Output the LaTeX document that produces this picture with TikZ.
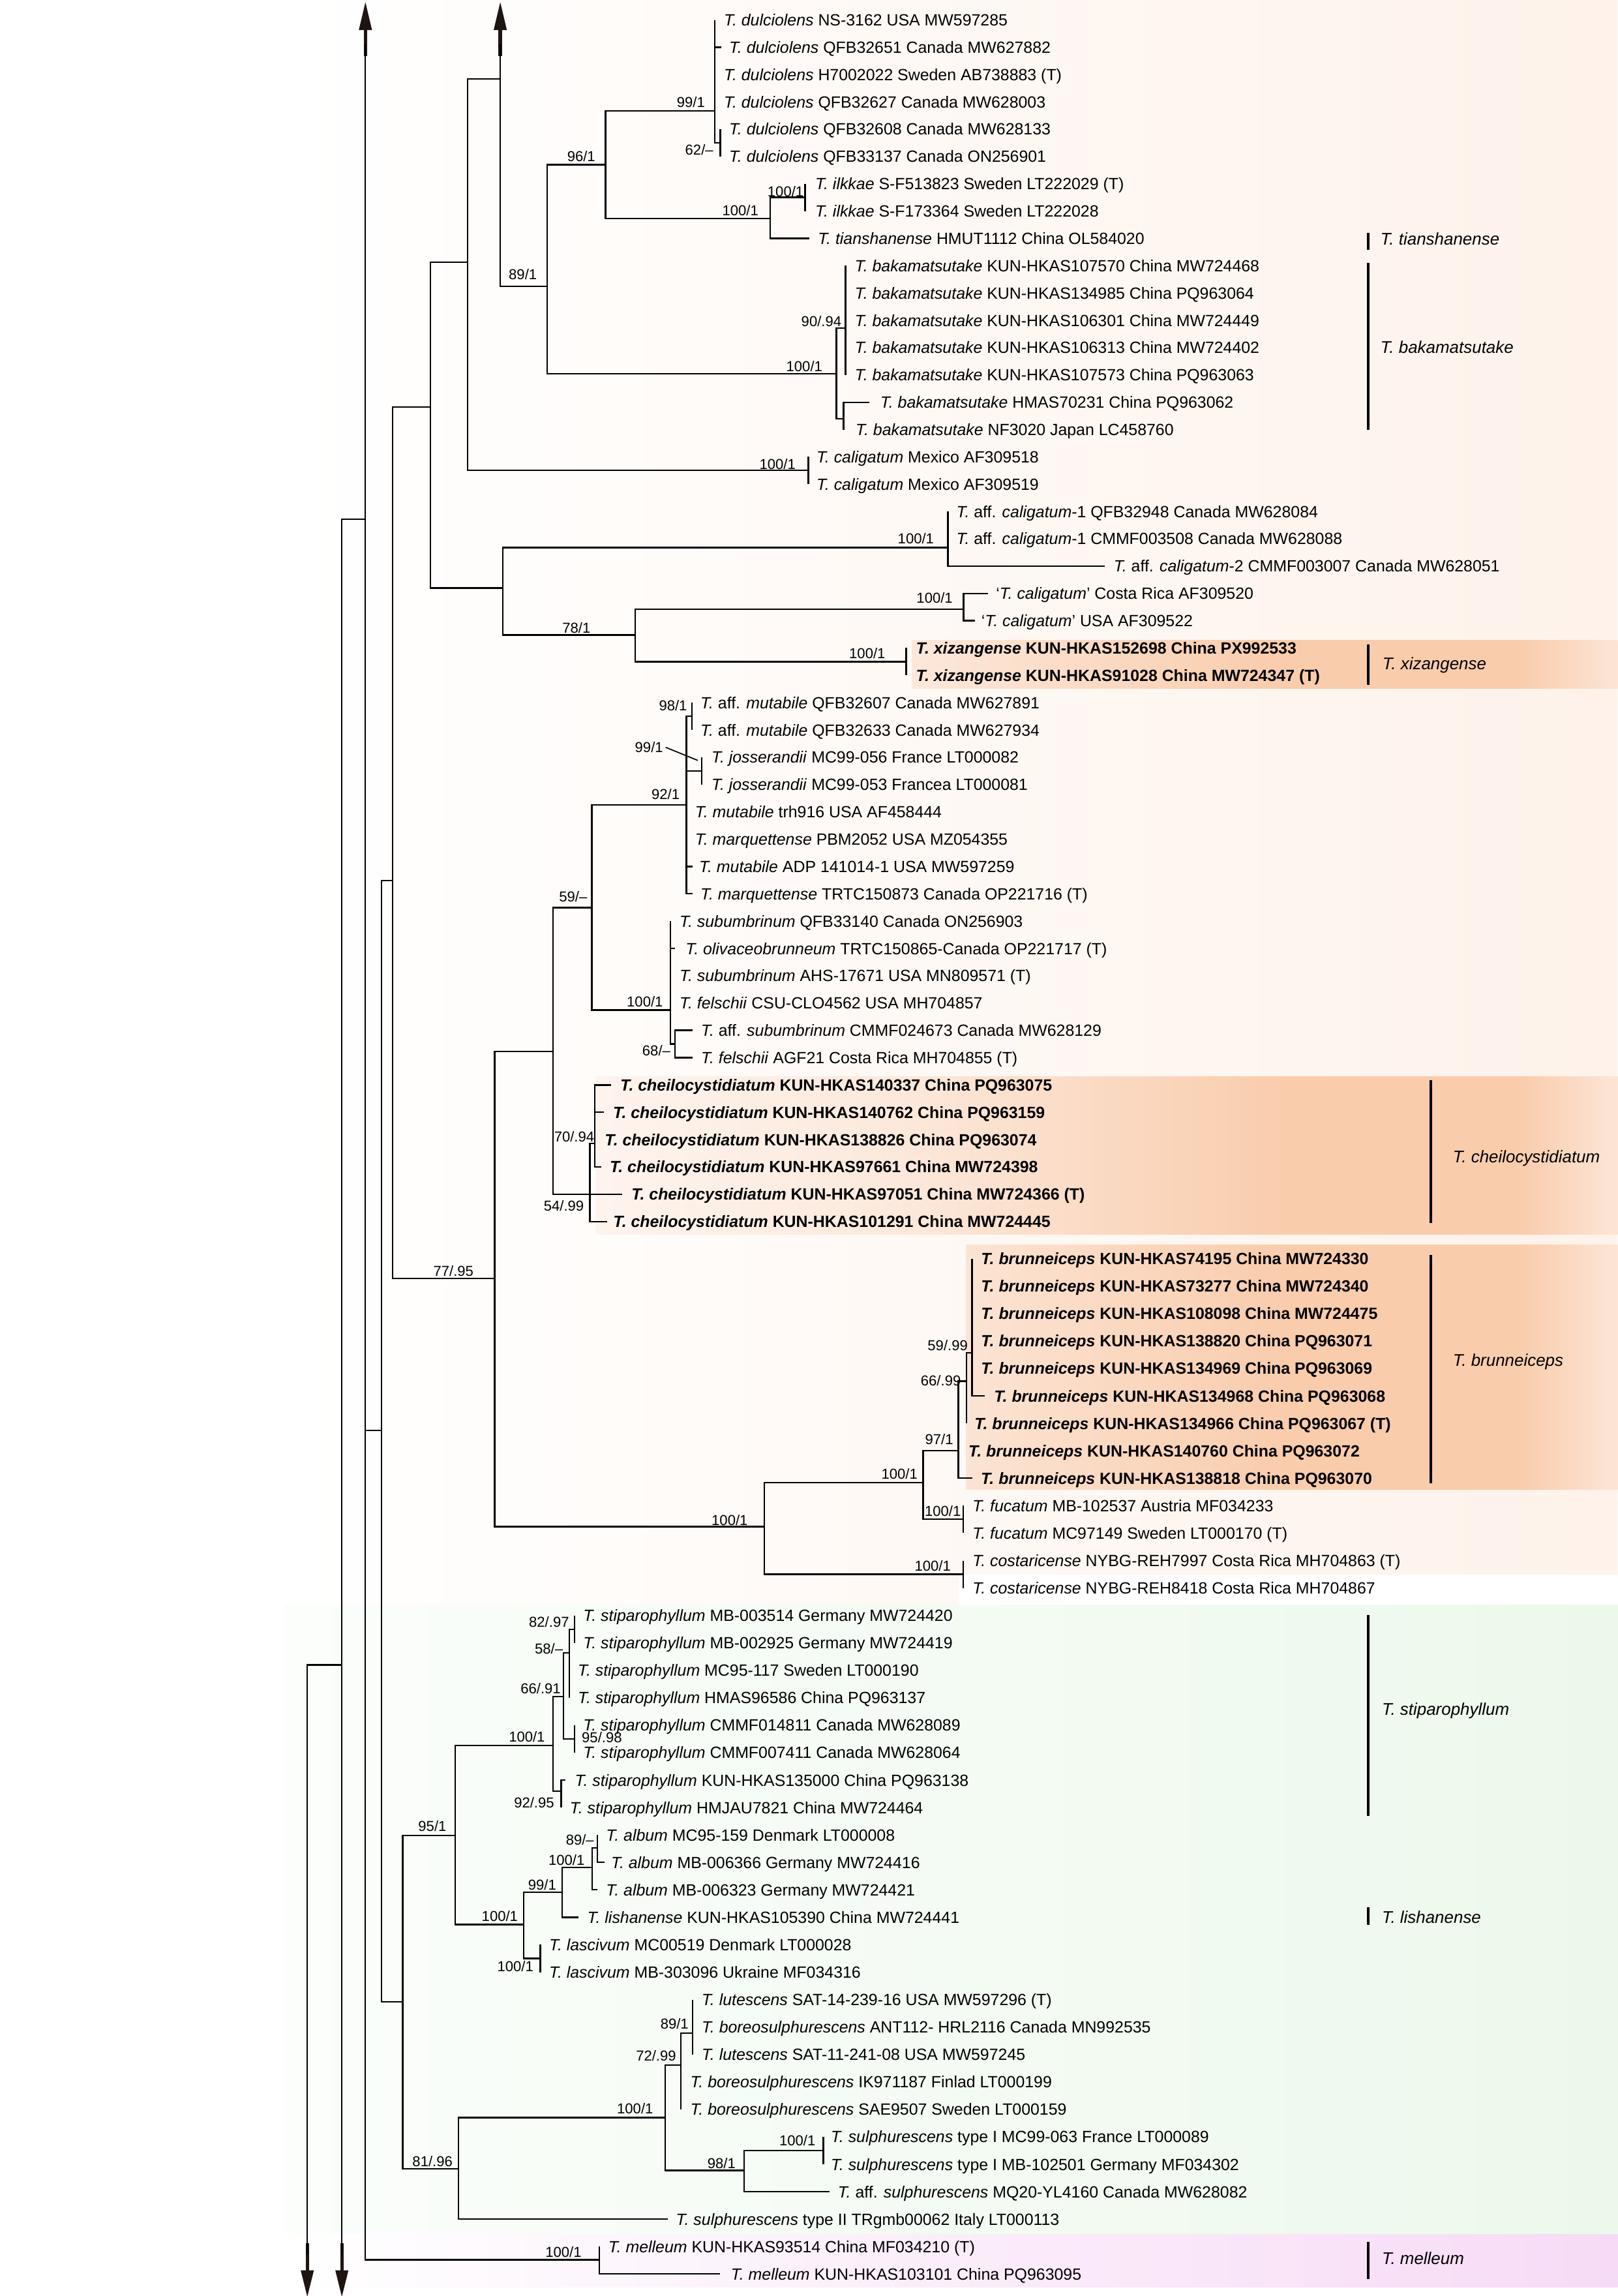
\documentclass[tikz,border=0pt]{standalone}
\usepackage{fontspec}
\setmainfont{Liberation Sans}
\usetikzlibrary{calc}
\definecolor{peachR}{HTML}{FEF2EA}
\definecolor{greenL}{HTML}{FBFEFB}
\definecolor{greenR}{HTML}{EDF8EC}
\definecolor{purpR}{HTML}{F7DBF6}
\definecolor{bandA}{HTML}{FEF4EE}
\definecolor{bandB}{HTML}{FCE9DC}
\definecolor{bandC}{HTML}{F9CCAC}
\definecolor{bandD}{HTML}{FCE5D6}
\definecolor{arrc}{HTML}{1E1412}
\pgfdeclarehorizontalshading{bandsh}{100bp}{color(0bp)=(bandA); color(25bp)=(bandA); color(40bp)=(bandB); color(59bp)=(bandC); color(70.25bp)=(bandC); color(75bp)=(bandD); color(100bp)=(bandD)}
\newcommand\tI[1]{\textit{#1}}
\tikzset{
  br/.style={line width=0.65pt, black},
  leaf/.style={anchor=base west, inner sep=0pt, font=\fontsize{7.1}{8}\selectfont},
  bleaf/.style={leaf, font=\fontsize{7.1}{8}\selectfont\bfseries},
  sup/.style={anchor=base east, inner sep=0pt, font=\fontsize{6.3}{7}\selectfont},
  clade/.style={anchor=base west, inner sep=0pt, font=\fontsize{7.4}{8}\selectfont\itshape},
  cbar/.style={line width=1.1pt, black},
}
% internal node: name, parent, x, y
\newcommand\IN[4]{\coordinate (#1) at (#3,#4); \draw[br] (#2) |- (#1);}
% leaf: name, parent, xtip, y, xtext, style, text
\newcommand\LF[7]{\coordinate (#1t) at (#3,#4); \draw[br] (#2) |- (#1t); \node[#6] (#1) at (#5,{#4+4}) {#7};}
% support value: name, x right, y centre, text
\newcommand\SUP[4]{\node[sup] (#1) at (#2,{#3+3.5}) {#4};}
% clade bar: name, x, y1, y2, xtext, ytext, text
\newcommand\CL[7]{\coordinate (#1a) at (#2,#3); \coordinate (#1b) at (#2,#4); \draw[cbar] (#1a) -- (#1b); \node[clade] (#1) at (#5,{#6+4.1}) {#7};}
\newcommand\UpArr[2]{\coordinate (#1) at (#2,1.5);
  \fill[arrc] (#2-4.5,20.5) -- (#1) -- (#2+4.5,20.5) -- cycle;
  \draw[arrc, line width=1.5pt] (#2,19) -- (#2,38.5);}
\newcommand\DnArr[2]{\coordinate (#1) at (#2,1568.5);
  \fill[arrc] (#2-4.5,1550.4) -- (#1) -- (#2+4.5,1550.4) -- cycle;
  \draw[arrc, line width=1.5pt] (#2,1532) -- (#2,1552);}
\begin{document}
\begin{tikzpicture}[x=0.0225cm,y=-0.0225cm]
\useasboundingbox (0,0) rectangle (1105,1568);
\fill[white] (0,0) rectangle (1105,1568);
% background regions
\shade[left color=white, right color=peachR] (194,0) -- (1105,0) -- (1105,1075.4) -- (655,1075.4) -- (655,1096) -- (194,1096) -- cycle;
\shade[left color=greenL, right color=greenR] (194,1096) rectangle (1105,1526);
\shade[left color=white, right color=purpR] (194,1526) rectangle (1105,1562);
% highlight bands
\begin{scope}\clip (623,437) rectangle (1105,470); \shade[shading=bandsh] (400,437) rectangle (1105,470); \end{scope}
\begin{scope}\clip (407,735) rectangle (1105,843); \shade[shading=bandsh] (400,735) rectangle (1105,843); \end{scope}
\begin{scope}\clip (660,850) rectangle (1105,1017); \shade[shading=bandsh] (400,850) rectangle (1105,1017); \end{scope}

% arrows and root lines
\UpArr{A1}{249.6}
\UpArr{A2}{341.7}
\DnArr{A3}{233.5}
\DnArr{A4}{209.9}
\coordinate (Rtop) at (249.6,30);
\coordinate (Rbot) at (249.6,1543.3);
\coordinate (R) at (249.6,976.8);
\coordinate (Ra) at (249.6,354.6);
\draw[br] (Rtop) -- (Rbot);
\coordinate (L1) at (233.5,354.6);
\coordinate (L1m) at (233.5,1137);
\coordinate (L1b) at (233.5,1540);
\coordinate (L2) at (209.9,1137);
\coordinate (L2b) at (209.9,1540);
\draw[br] (Ra) -- (L1) -- (L1b);
\draw[br] (L1m) -- (L2) -- (L2b);

% internal nodes
\IN{n260}{R}{260.6}{976.8}
\IN{n268}{n260}{268.3}{601.2}
\IN{n275}{n260}{275.1}{1367.2}
\IN{n294}{n268}{294.1}{277.9}
\IN{n338}{n268}{337.9}{873.2}
\IN{n319}{n294}{319.4}{179}
\IN{n344}{n294}{343.6}{401.6}
\IN{n342}{n319}{341.7}{53.9}
\coordinate (A2s) at (341.7,30);
\draw[br] (n342) -- (A2s);
\IN{cal}{n319}{552.1}{321.3}
\IN{n374}{n342}{373.6}{195.4}
\IN{n414}{n374}{413.6}{112.5}
\IN{bak}{n374}{571.3}{255.1}
\IN{dul}{n414}{488.1}{75.7}
\IN{n526}{n414}{526.2}{149.3}
\IN{d62}{dul}{492}{97.5}
\IN{ilk}{n526}{549.9}{134.8}
\IN{b90}{bak}{577.5}{224}
\IN{b2}{bak}{576.2}{286}
\IN{acal}{n344}{647.5}{373.9}
\IN{n434}{n344}{434}{433.7}
\IN{qcal}{n434}{658.2}{416}
\IN{xiz}{n434}{619}{451.9}
\IN{n378}{n338}{377.9}{718.1}
\IN{n522}{n338}{522}{1042.6}
\IN{n404}{n378}{404.2}{619.9}
\IN{c54}{n378}{402.9}{815.55}
\IN{n469}{n404}{468.8}{549.6}
\IN{sub}{n404}{458}{689.8}
\IN{mut98}{n469}{472.5}{489.2}
\IN{joss}{n469}{479.3}{526.5}
\IN{s68}{sub}{461.1}{713}
\IN{c70}{c54}{406.3}{780.8}
\IN{n630}{n522}{630.5}{1012.5}
\IN{cos}{n522}{657.8}{1075.1}
\IN{b97}{n630}{654.6}{990.78}
\IN{fuc}{n630}{657.8}{1037.6}
\IN{b66}{b97}{660}{943.3}
\IN{b59}{b66}{664}{924}
\IN{n311}{n275}{310.8}{1253.4}
\IN{n313}{n275}{313.1}{1481.2}
\IN{st100}{n311}{377.6}{1191.9}
\IN{n358}{n311}{357.8}{1314.3}
\IN{s66}{st100}{384.8}{1158.6}
\IN{s92}{st100}{383.3}{1223.3}
\IN{s58}{s66}{389}{1128.9}
\IN{s95}{s66}{392.4}{1187.5}
\IN{s82}{s58}{392.4}{1112.6}
\IN{a99}{n358}{383.9}{1292.1}
\IN{las}{n358}{369.1}{1337.5}
\IN{alb}{a99}{404.6}{1275.2}
\IN{a89}{alb}{408}{1261.8}
\IN{s454}{n313}{454.4}{1446.2}
\IN{s72}{s454}{465.2}{1410.3}
\IN{s98}{s454}{508.4}{1482.2}
\IN{s89}{s72}{473.1}{1388.4}
\IN{sI}{s98}{562.4}{1468.65}
\IN{mel}{R}{409.5}{1543.3}

% leaves
\LF{l1}{dul}{488.1}{13.6}{494.2}{leaf}{\tI{T. dulciolens} NS-3162 USA MW597285}
\LF{l2}{dul}{492.7}{32.25}{497.7}{leaf}{\tI{T. dulciolens} QFB32651 Canada MW627882}
\LF{l3}{dul}{488.1}{50.9}{494.2}{leaf}{\tI{T. dulciolens} H7002022 Sweden AB738883 (T)}
\LF{l4}{dul}{488.1}{69.55}{494.2}{leaf}{\tI{T. dulciolens} QFB32627 Canada MW628003}
\LF{l5}{d62}{492}{88.2}{497.7}{leaf}{\tI{T. dulciolens} QFB32608 Canada MW628133}
\LF{l6}{d62}{492}{106.85}{497.7}{leaf}{\tI{T. dulciolens} QFB33137 Canada ON256901}
\LF{l7}{ilk}{549.9}{125.5}{556.6}{leaf}{\tI{T. ilkkae} S-F513823 Sweden LT222029 (T)}
\LF{l8}{ilk}{549.9}{144.15}{556.6}{leaf}{\tI{T. ilkkae} S-F173364 Sweden LT222028}
\LF{l9}{n526}{552.9}{162.8}{558.4}{leaf}{\tI{T. tianshanense} HMUT1112 China OL584020}
\LF{l10}{b90}{577.5}{181.45}{583.6}{leaf}{\tI{T. bakamatsutake} KUN-HKAS107570 China MW724468}
\LF{l11}{b90}{577.5}{200.1}{583.6}{leaf}{\tI{T. bakamatsutake} KUN-HKAS134985 China PQ963064}
\LF{l12}{b90}{577.5}{218.75}{583.6}{leaf}{\tI{T. bakamatsutake} KUN-HKAS106301 China MW724449}
\LF{l13}{b90}{577.5}{237.4}{583.6}{leaf}{\tI{T. bakamatsutake} KUN-HKAS106313 China MW724402}
\LF{l14}{b90}{577.5}{256.05}{583.6}{leaf}{\tI{T. bakamatsutake} KUN-HKAS107573 China PQ963063}
\LF{l15}{b2}{593.6}{274.7}{601}{leaf}{\tI{T. bakamatsutake} HMAS70231 China PQ963062}
\LF{l16}{b2}{576.2}{293.35}{584.2}{leaf}{\tI{T. bakamatsutake} NF3020 Japan LC458760}
\LF{l17}{cal}{552.1}{312.0}{557.4}{leaf}{\tI{T. caligatum} Mexico AF309518}
\LF{l18}{cal}{552.1}{330.65}{557.4}{leaf}{\tI{T. caligatum} Mexico AF309519}
\LF{l19}{acal}{647.5}{349.3}{653}{leaf}{\tI{T.} aff. \tI{caligatum}-1 QFB32948 Canada MW628084}
\LF{l20}{acal}{647.5}{367.95}{653}{leaf}{\tI{T.} aff. \tI{caligatum}-1 CMMF003508 Canada MW628088}
\LF{l21}{acal}{754.5}{386.6}{760.5}{leaf}{\tI{T.} aff. \tI{caligatum}-2 CMMF003007 Canada MW628051}
\LF{l22}{qcal}{675}{405.25}{680}{leaf}{‘\tI{T. caligatum}’ Costa Rica AF309520}
\LF{l23}{qcal}{665.8}{423.9}{670}{leaf}{‘\tI{T. caligatum}’ USA AF309522}
\LF{l24}{xiz}{619}{442.55}{625.4}{bleaf}{\tI{T. xizangense} KUN-HKAS152698 China PX992533}
\LF{l25}{xiz}{619}{461.2}{625.4}{bleaf}{\tI{T. xizangense} KUN-HKAS91028 China MW724347 (T)}
\LF{l26}{mut98}{472.5}{479.85}{478.2}{leaf}{\tI{T.} aff. \tI{mutabile} QFB32607 Canada MW627891}
\LF{l27}{mut98}{472.5}{498.5}{478.2}{leaf}{\tI{T.} aff. \tI{mutabile} QFB32633 Canada MW627934}
\LF{l28}{joss}{479.3}{517.15}{485.7}{leaf}{\tI{T. josserandii} MC99-056 France LT000082}
\LF{l29}{joss}{479.3}{535.8}{485.7}{leaf}{\tI{T. josserandii} MC99-053 Francea LT000081}
\LF{l30}{n469}{468.8}{554.45}{474.5}{leaf}{\tI{T. mutabile} trh916 USA AF458444}
\LF{l31}{n469}{468.8}{573.1}{474.5}{leaf}{\tI{T. marquettense} PBM2052 USA MZ054355}
\LF{l32}{n469}{473}{591.75}{477.3}{leaf}{\tI{T. mutabile} ADP 141014-1 USA MW597259}
\LF{l33}{n469}{473}{610.4}{478.2}{leaf}{\tI{T. marquettense} TRTC150873 Canada OP221716 (T)}
\LF{l34}{sub}{458}{629.05}{463.9}{leaf}{\tI{T. subumbrinum} QFB33140 Canada ON256903}
\LF{l35}{sub}{461.1}{647.7}{468}{leaf}{\tI{T. olivaceobrunneum} TRTC150865-Canada OP221717 (T)}
\LF{l36}{sub}{458}{666.35}{463.9}{leaf}{\tI{T. subumbrinum} AHS-17671 USA MN809571 (T)}
\LF{l37}{sub}{458}{685.0}{463.9}{leaf}{\tI{T. felschii} CSU-CLO4562 USA MH704857}
\LF{l38}{s68}{473}{703.65}{478.6}{leaf}{\tI{T.} aff. \tI{subumbrinum} CMMF024673 Canada MW628129}
\LF{l39}{s68}{473}{722.3}{478.6}{leaf}{\tI{T. felschii} AGF21 Costa Rica MH704855 (T)}
\LF{l40}{c70}{417.4}{740.95}{423.4}{bleaf}{\tI{T. cheilocystidiatum} KUN-HKAS140337 China PQ963075}
\LF{l41}{c70}{412.4}{759.6}{418.5}{bleaf}{\tI{T. cheilocystidiatum} KUN-HKAS140762 China PQ963159}
\LF{l42}{c70}{406.3}{778.25}{412.8}{bleaf}{\tI{T. cheilocystidiatum} KUN-HKAS138826 China PQ963074}
\LF{l43}{c70}{410.9}{796.9}{416.2}{bleaf}{\tI{T. cheilocystidiatum} KUN-HKAS97661 China MW724398}
\LF{l44}{c54}{425.1}{815.55}{431}{bleaf}{\tI{T. cheilocystidiatum} KUN-HKAS97051 China MW724366 (T)}
\LF{l45}{c54}{414.7}{834.2}{418.6}{bleaf}{\tI{T. cheilocystidiatum} KUN-HKAS101291 China MW724445}
\LF{l46}{b59}{664}{859.6}{669.8}{bleaf}{\tI{T. brunneiceps} KUN-HKAS74195 China MW724330}
\LF{l47}{b59}{664}{878.34}{669.8}{bleaf}{\tI{T. brunneiceps} KUN-HKAS73277 China MW724340}
\LF{l48}{b59}{664}{897.08}{669.8}{bleaf}{\tI{T. brunneiceps} KUN-HKAS108098 China MW724475}
\LF{l49}{b59}{664}{915.82}{669.8}{bleaf}{\tI{T. brunneiceps} KUN-HKAS138820 China PQ963071}
\LF{l50}{b59}{664}{934.56}{669.8}{bleaf}{\tI{T. brunneiceps} KUN-HKAS134969 China PQ963069}
\LF{l51}{b59}{672.5}{953.3}{678.7}{bleaf}{\tI{T. brunneiceps} KUN-HKAS134968 China PQ963068}
\LF{l52}{b66}{660}{972.04}{665.3}{bleaf}{\tI{T. brunneiceps} KUN-HKAS134966 China PQ963067 (T)}
\LF{l53}{b97}{654.6}{990.78}{661.2}{bleaf}{\tI{T. brunneiceps} KUN-HKAS140760 China PQ963072}
\LF{l54}{b97}{664}{1009.52}{669.7}{bleaf}{\tI{T. brunneiceps} KUN-HKAS138818 China PQ963070}
\LF{l55}{fuc}{657.8}{1028.26}{664}{leaf}{\tI{T. fucatum} MB-102537 Austria MF034233}
\LF{l56}{fuc}{657.8}{1047.0}{664}{leaf}{\tI{T. fucatum} MC97149 Sweden LT000170 (T)}
\LF{l57}{cos}{657.8}{1065.74}{664}{leaf}{\tI{T. costaricense} NYBG-REH7997 Costa Rica MH704863 (T)}
\LF{l58}{cos}{657.8}{1084.48}{664}{leaf}{\tI{T. costaricense} NYBG-REH8418 Costa Rica MH704867}
\LF{l59}{s82}{392.4}{1103.22}{398.1}{leaf}{\tI{T. stiparophyllum} MB-003514 Germany MW724420}
\LF{l60}{s82}{392.4}{1121.96}{398.1}{leaf}{\tI{T. stiparophyllum} MB-002925 Germany MW724419}
\LF{l61}{s58}{389}{1140.7}{394.4}{leaf}{\tI{T. stiparophyllum} MC95-117 Sweden LT000190}
\LF{l62}{s58}{389}{1159.44}{394.4}{leaf}{\tI{T. stiparophyllum} HMAS96586 China PQ963137}
\LF{l63}{s95}{392.4}{1178.18}{398.1}{leaf}{\tI{T. stiparophyllum} CMMF014811 Canada MW628089}
\LF{l64}{s95}{392.4}{1196.92}{398.1}{leaf}{\tI{T. stiparophyllum} CMMF007411 Canada MW628064}
\LF{l65}{s92}{386.2}{1215.66}{392.4}{leaf}{\tI{T. stiparophyllum} KUN-HKAS135000 China PQ963138}
\LF{l66}{s92}{383.3}{1234.4}{389}{leaf}{\tI{T. stiparophyllum} HMJAU7821 China MW724464}
\LF{l67}{a89}{408}{1253.14}{413.7}{leaf}{\tI{T. album} MC95-159 Denmark LT000008}
\LF{l68}{a89}{412.9}{1271.88}{417.1}{leaf}{\tI{T. album} MB-006366 Germany MW724416}
\LF{l69}{alb}{408}{1290.62}{413.7}{leaf}{\tI{T. album} MB-006323 Germany MW724421}
\LF{l70}{a99}{395.3}{1309.36}{400.9}{leaf}{\tI{T. lishanense} KUN-HKAS105390 China MW724441}
\LF{l71}{las}{369.1}{1328.1}{374.8}{leaf}{\tI{T. lascivum} MC00519 Denmark LT000028}
\LF{l72}{las}{369.1}{1346.84}{374.8}{leaf}{\tI{T. lascivum} MB-303096 Ukraine MF034316}
\LF{l73}{s89}{473.1}{1365.58}{479}{leaf}{\tI{T. lutescens} SAT-14-239-16 USA MW597296 (T)}
\LF{l74}{s89}{473.1}{1384.32}{479}{leaf}{\tI{T. boreosulphurescens} ANT112- HRL2116 Canada MN992535}
\LF{l75}{s89}{473.1}{1403.06}{479}{leaf}{\tI{T. lutescens} SAT-11-241-08 USA MW597245}
\LF{l76}{s72}{465.2}{1421.8}{471.2}{leaf}{\tI{T. boreosulphurescens} IK971187 Finlad LT000199}
\LF{l77}{s72}{465.2}{1440.54}{471.2}{leaf}{\tI{T. boreosulphurescens} SAE9507 Sweden LT000159}
\LF{l78}{sI}{562.4}{1459.28}{567.2}{leaf}{\tI{T. sulphurescens} type I MC99-063 France LT000089}
\LF{l79}{sI}{562.4}{1478.02}{567.2}{leaf}{\tI{T. sulphurescens} type I MB-102501 Germany MF034302}
\LF{l80}{s98}{566.4}{1496.76}{572}{leaf}{\tI{T.} aff. \tI{sulphurescens} MQ20-YL4160 Canada MW628082}
\LF{l81}{n313}{456.3}{1515.5}{461.5}{leaf}{\tI{T. sulphurescens} type II TRgmb00062 Italy LT000113}
\LF{l82}{mel}{409.5}{1534.24}{415.2}{leaf}{\tI{T. melleum} KUN-HKAS93514 China MF034210 (T)}
\LF{l83}{mel}{491.9}{1552.98}{499}{leaf}{\tI{T. melleum} KUN-HKAS103101 China PQ963095}

% support values
\SUP{v1}{481.8}{70}{99/1}
\SUP{v2}{487.5}{102.3}{62/--}
\SUP{v3}{406.9}{106.7}{96/1}
\SUP{v4}{518.3}{143.9}{100/1}
\SUP{v5}{549.2}{130.7}{100/1}
\SUP{v6}{367}{187.5}{89/1}
\SUP{v7}{575}{219.4}{90/.94}
\SUP{v8}{562}{250}{100/1}
\SUP{v9}{543.7}{317.2}{100/1}
\SUP{v10}{638.2}{367.6}{100/1}
\SUP{v11}{403.6}{428.6}{78/1}
\SUP{v12}{651}{408.5}{100/1}
\SUP{v13}{605}{446.4}{100/1}
\SUP{v14}{469.6}{482}{98/1}
\SUP{v15}{453.2}{510.4}{99/1}
\coordinate (jptr) at (476.6,519.3);
\draw[line width=0.5pt] (v15.east) ++(1.5,0) -- (jptr);
\SUP{v16}{464.5}{542.6}{92/1}
\SUP{v17}{401.4}{612.4}{59/--}
\SUP{v18}{453.1}{684}{100/1}
\SUP{v19}{458.2}{717.3}{68/--}
\SUP{v20}{406.2}{776.2}{70/.94}
\SUP{v21}{399.1}{823.6}{54/.99}
\SUP{v22}{323.7}{868.1}{77/.95}
\SUP{v23}{511}{1038.1}{100/1}
\SUP{v24}{627}{1006.7}{100/1}
\SUP{v25}{651.4}{983}{97/1}
\SUP{v26}{656.6}{943}{66/.99}
\SUP{v27}{661.3}{918.8}{59/.99}
\SUP{v28}{656.6}{1032}{100/1}
\SUP{v29}{649.7}{1069.5}{100/1}
\SUP{v30}{389}{1107.7}{82/.97}
\SUP{v31}{384.8}{1125.8}{58/--}
\SUP{v32}{383.3}{1153.3}{66/.91}
\SUP{v33}{425.1}{1186.7}{95/.98}
\SUP{v34}{372.5}{1186.2}{100/1}
\SUP{v35}{378.8}{1231.1}{92/.95}
\SUP{v36}{305.2}{1247.1}{95/1}
\SUP{v37}{406}{1256.5}{89/--}
\SUP{v38}{399.6}{1270.2}{100/1}
\SUP{v39}{380.2}{1287.4}{99/1}
\SUP{v40}{354}{1308.7}{100/1}
\SUP{v41}{364.6}{1343}{100/1}
\SUP{v42}{470.6}{1382.1}{89/1}
\SUP{v43}{462.1}{1404}{72/.99}
\SUP{v44}{446.4}{1440}{100/1}
\SUP{v45}{557.3}{1461.8}{100/1}
\SUP{v46}{502.7}{1477.5}{98/1}
\SUP{v47}{309.4}{1476}{81/.96}
\SUP{v48}{397.5}{1537.8}{100/1}

% clade labels
\CL{k1}{934.4}{159}{170.5}{942.7}{163}{T. tianshanense}
\CL{k2}{934.4}{179.6}{293.7}{942.7}{237}{T. bakamatsutake}
\CL{k3}{934.6}{440}{467.9}{944}{453.2}{T. xizangense}
\CL{k4}{977.5}{737.7}{835.1}{992.1}{790.1}{T. cheilocystidiatum}
\CL{k5}{977.5}{857}{1013}{992.1}{928.7}{T. brunneiceps}
\CL{k6}{934.6}{1103}{1240}{943.6}{1167}{T. stiparophyllum}
\CL{k7}{934.6}{1302.4}{1314.6}{943.6}{1309.3}{T. lishanense}
\CL{k8}{934.6}{1531.2}{1556.2}{943.6}{1542.4}{T. melleum}
\end{tikzpicture}
\end{document}
